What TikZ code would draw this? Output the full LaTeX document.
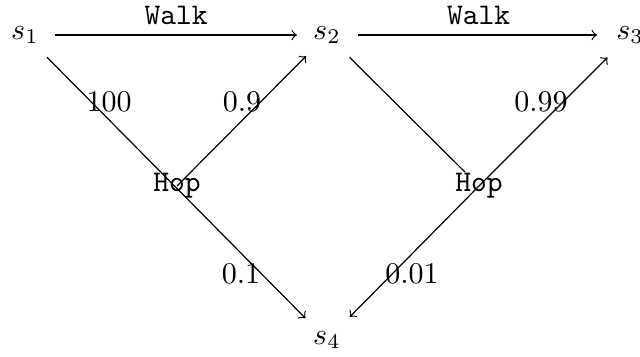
\documentclass[tikz,border=0pt]{standalone}
\begin{document}
\begin{tikzpicture}[x=0.33333pt,y=-0.33333pt,
  st/.style={inner sep=0pt},
  hopnode/.style={inner sep=0pt,font=\ttfamily},
  wt/.style={font=\ttfamily},
  num/.style={inner sep=0pt},
  conn/.style={->,line width=0.4pt}]
\useasboundingbox (0,0) rectangle (640,356);
\node[st] (s1) at (25,35) {$s_1$};
\node[st] (s2) at (327,35) {$s_2$};
\node[st] (s3) at (630,35) {$s_3$};
\node[st] (s4) at (327,340) {$s_4$};
\node[hopnode] (h1) at (177,186) {Hop};
\node[hopnode] (h2) at (479,186) {Hop};
\draw[conn,shorten <=10pt,shorten >=10pt] (s1.center) -- node[midway,above=0pt,wt] {Walk} (s2.center);
\draw[conn,shorten <=10.3pt,shorten >=11pt] (s2.center) -- node[midway,above=0pt,wt] {Walk} (s3.center);
\draw[conn,shorten <=10.4pt,shorten >=10.2pt] (s1.center) -- (s4.center);
\draw[conn,shorten >=9.9pt] (h1.center) -- (s2.center);
\draw[line width=0.4pt,shorten <=10.6pt,shorten >=6.6pt] (s2.center) -- (h2.center);
\draw[conn,shorten >=10.6pt] (h2.center) -- (s3.center);
\draw[conn,shorten >=10.8pt] (h2.center) -- (s4.center);
\node[num] (l100) at (109,102) {100};
\node[num] (l09) at (242,102) {0.9};
\node[num] (l01) at (241,274) {0.1};
\node[num] (l099) at (541,102) {0.99};
\node[num] (l001) at (412,274) {0.01};
\end{tikzpicture}
\end{document}
